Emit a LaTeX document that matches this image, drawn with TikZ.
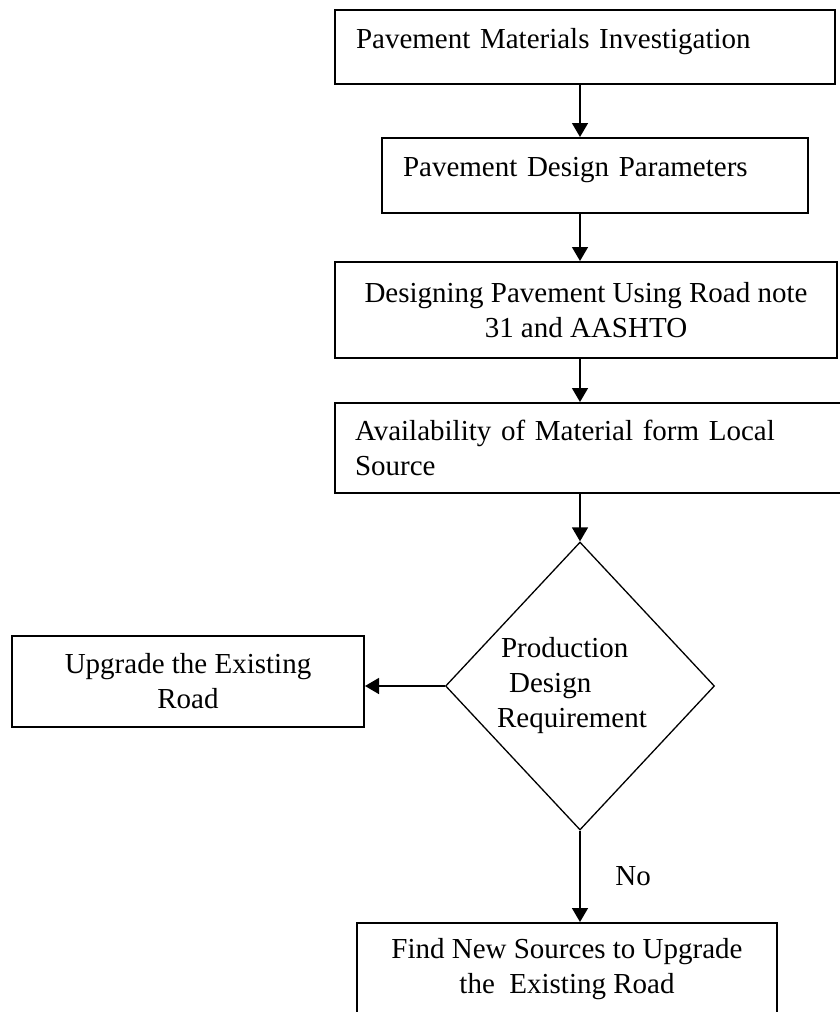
\documentclass[tikz,border=0pt]{standalone}
\usepackage{fontspec}
\setmainfont{Liberation Serif}
\usetikzlibrary{shapes.geometric,arrows.meta}
\begin{document}
\begin{tikzpicture}[x=0.5pt, y=-0.5pt,
  font=\fontsize{14.5}{17.5}\selectfont,
  box/.style={draw, rectangle, line width=1pt, inner sep=0pt},
  lbox/.style={box, align=left, inner xsep=10.5pt},
  raised/.style={text height=10pt, text depth=8.7pt},
  cbox/.style={box, align=center},
  arr/.style={-{Triangle[width=8pt,length=7pt]}, line width=0.75pt}]
\useasboundingbox (0,0) rectangle (840,1012);
\node[lbox, raised, text width=229pt, minimum height=37pt] (mat) at (585,47) {Pavement Materials Investigation};
\node[lbox, raised, text width=192pt, minimum height=37.5pt] (par) at (595,175.5) {Pavement Design Parameters};
\node[cbox, minimum width=251pt, minimum height=48pt] (des) at (586,310) {Designing Pavement Using Road note\\31 and AASHTO};
\node[lbox, inner xsep=10pt, text width=237.5pt, minimum height=45pt] (avail) at (592.5,448) {Availability of Material form Local\\Source};
\node[diamond, draw, line width=0.65pt, inner sep=0pt, align=left, minimum width=134.5pt, minimum height=144pt] (req) at (580,686) {\hspace*{2pt}Production\\\hspace*{6pt}Design\\Requirement\hspace*{8pt}};
\node[cbox, minimum width=176pt, minimum height=45.5pt] (upg) at (188,681.5) {Upgrade the Existing\\Road};
\node[cbox, minimum width=210pt, minimum height=46pt] (find) at (567,969) {Find New Sources to Upgrade\\the \ Existing Road};
% arrows
\draw[arr] (mat.south -| req) -- (par.north -| req);
\draw[arr] (par.south -| req) -- (des.north -| req);
\draw[arr] (des.south -| req) -- (avail.north -| req);
\draw[arr] (avail.south -| req) -- (req.north);
\draw[arr] (req.west) -- (req.west -| upg.east);
\draw[arr] (req.south) -- (req.south |- find.north) node[midway, right=14pt] {No};
\end{tikzpicture}
\end{document}
